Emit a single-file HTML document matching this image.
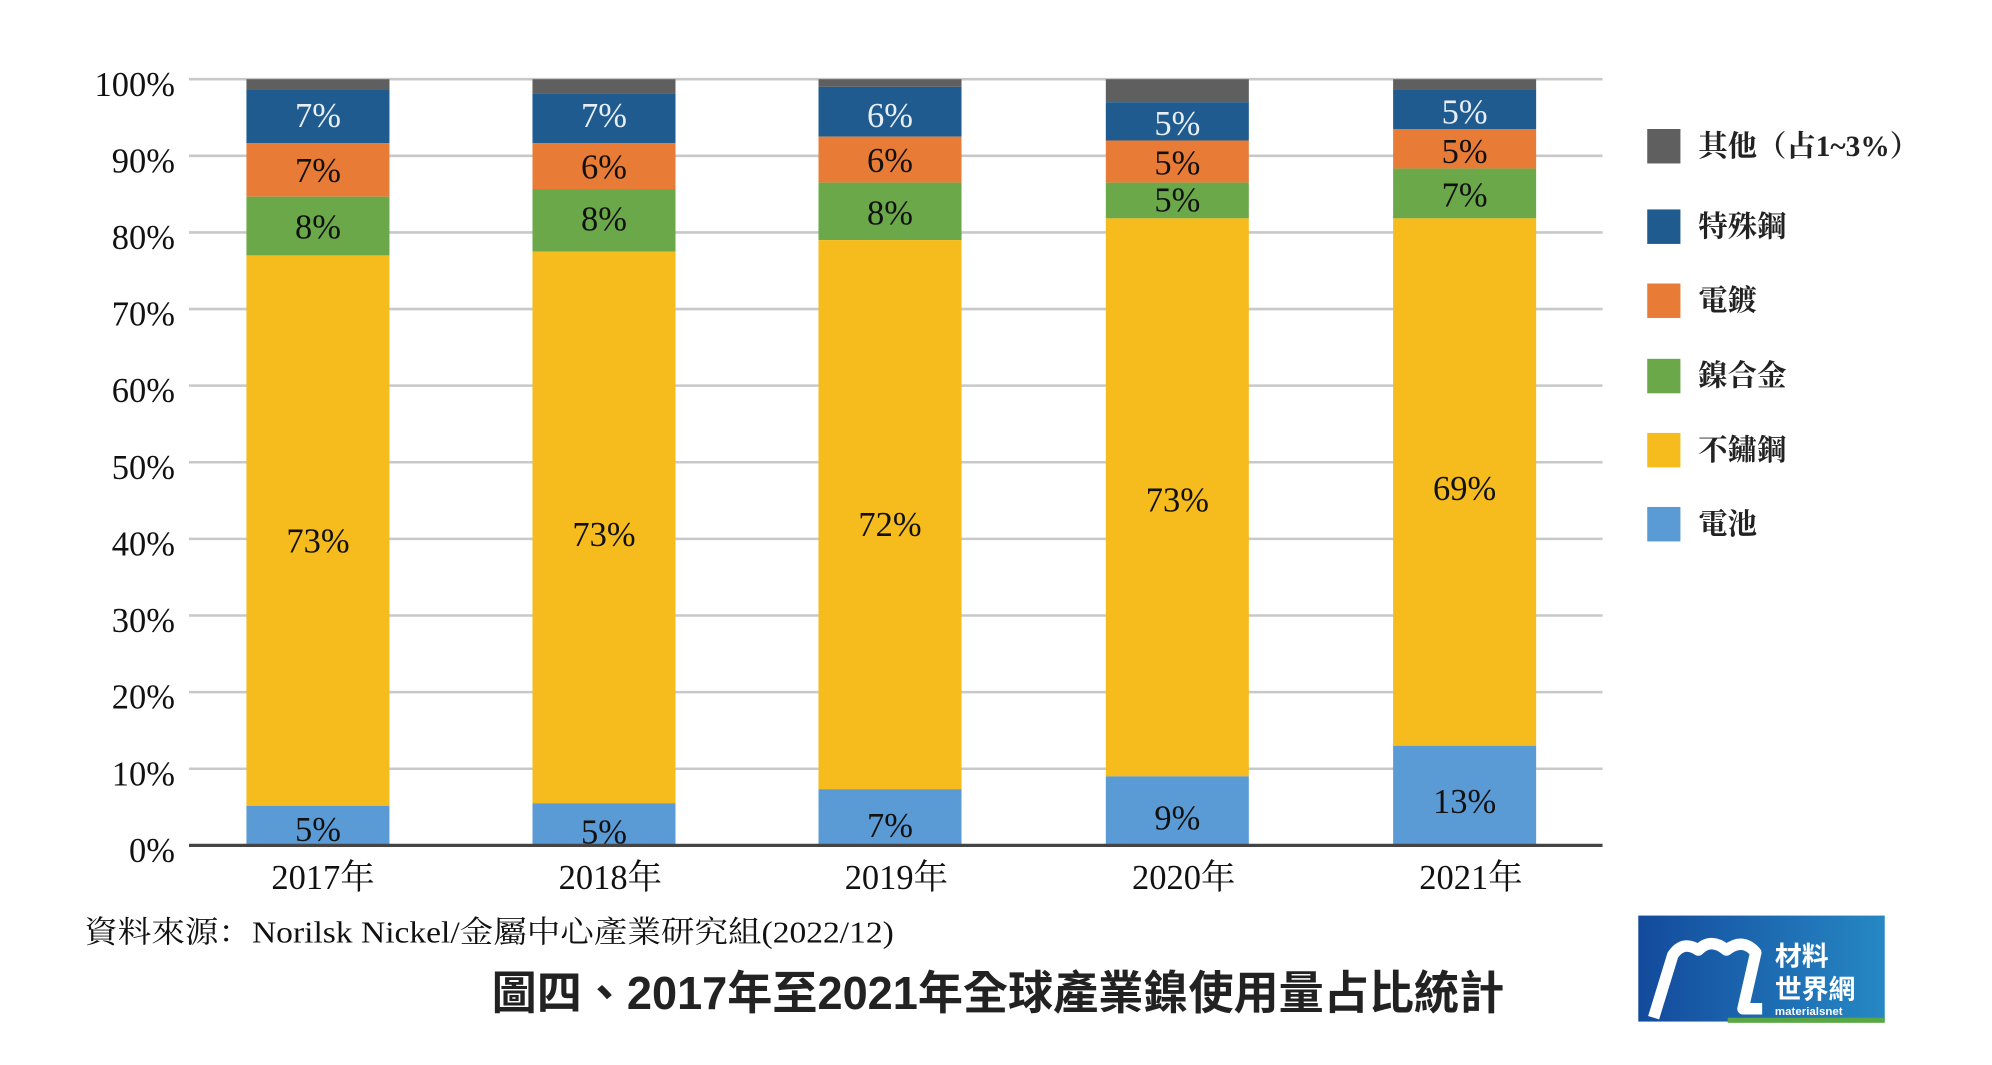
<!DOCTYPE html>
<html><head><meta charset="utf-8"><style>
html,body{margin:0;padding:0;background:#fff;}
svg{display:block;}
.s{font-family:"Liberation Serif","Noto Serif CJK SC",serif;}
</style></head><body>
<svg width="1992" height="1065" viewBox="0 0 1560 834" xmlns="http://www.w3.org/2000/svg">
<rect width="1560" height="834" fill="#fff"/>
<g stroke="#c8c8c8" stroke-width="2">
<line x1="148" x2="1255" y1="62" y2="62"/><line x1="148" x2="1255" y1="122" y2="122"/>
<line x1="148" x2="1255" y1="182" y2="182"/><line x1="148" x2="1255" y1="242" y2="242"/>
<line x1="148" x2="1255" y1="302" y2="302"/><line x1="148" x2="1255" y1="362" y2="362"/>
<line x1="148" x2="1255" y1="422" y2="422"/><line x1="148" x2="1255" y1="482" y2="482"/>
<line x1="148" x2="1255" y1="542" y2="542"/><line x1="148" x2="1255" y1="602" y2="602"/>
</g>
<g class="s" font-size="27" fill="#111" text-anchor="end">
<text x="137" y="75">100%</text><text x="137" y="135">90%</text><text x="137" y="195">80%</text>
<text x="137" y="255">70%</text><text x="137" y="315">60%</text><text x="137" y="375">50%</text>
<text x="137" y="435">40%</text><text x="137" y="495">30%</text><text x="137" y="555">20%</text>
<text x="137" y="615">10%</text><text x="137" y="675">0%</text>
</g>
<g>
<rect x="193" y="62" width="112" height="8" fill="#5f5f5f"/>
<rect x="193" y="70" width="112" height="42" fill="#1f5b8e"/>
<rect x="193" y="112" width="112" height="42" fill="#e87c36"/>
<rect x="193" y="154" width="112" height="46" fill="#6aa84a"/>
<rect x="193" y="200" width="112" height="431" fill="#f6bb1c"/>
<rect x="193" y="631" width="112" height="31" fill="#5b9bd5"/>
<rect x="417" y="62" width="112" height="11" fill="#5f5f5f"/>
<rect x="417" y="73" width="112" height="39" fill="#1f5b8e"/>
<rect x="417" y="112" width="112" height="36" fill="#e87c36"/>
<rect x="417" y="148" width="112" height="49" fill="#6aa84a"/>
<rect x="417" y="197" width="112" height="432" fill="#f6bb1c"/>
<rect x="417" y="629" width="112" height="33" fill="#5b9bd5"/>
<rect x="641" y="62" width="112" height="6" fill="#5f5f5f"/>
<rect x="641" y="68" width="112" height="39" fill="#1f5b8e"/>
<rect x="641" y="107" width="112" height="36" fill="#e87c36"/>
<rect x="641" y="143" width="112" height="45" fill="#6aa84a"/>
<rect x="641" y="188" width="112" height="430" fill="#f6bb1c"/>
<rect x="641" y="618" width="112" height="44" fill="#5b9bd5"/>
<rect x="866" y="62" width="112" height="18" fill="#5f5f5f"/>
<rect x="866" y="80" width="112" height="30" fill="#1f5b8e"/>
<rect x="866" y="110" width="112" height="33" fill="#e87c36"/>
<rect x="866" y="143" width="112" height="28" fill="#6aa84a"/>
<rect x="866" y="171" width="112" height="437" fill="#f6bb1c"/>
<rect x="866" y="608" width="112" height="54" fill="#5b9bd5"/>
<rect x="1091" y="62" width="112" height="8" fill="#5f5f5f"/>
<rect x="1091" y="70" width="112" height="31" fill="#1f5b8e"/>
<rect x="1091" y="101" width="112" height="31" fill="#e87c36"/>
<rect x="1091" y="132" width="112" height="39" fill="#6aa84a"/>
<rect x="1091" y="171" width="112" height="413" fill="#f6bb1c"/>
<rect x="1091" y="584" width="112" height="78" fill="#5b9bd5"/>
</g>
<line x1="148" x2="1255" y1="662" y2="662" stroke="#444" stroke-width="2.5"/>
<g class="s" font-size="27" text-anchor="middle" dominant-baseline="central" fill="#111">
<g fill="#e8eef5"><text x="249" y="91">7%</text><text x="473" y="91">7%</text><text x="697" y="91">6%</text><text x="922" y="97">5%</text><text x="1147" y="88">5%</text></g>
<text x="249" y="134">7%</text><text x="249" y="178">8%</text><text x="249" y="424">73%</text><text x="249" y="650">5%</text>
<text x="473" y="131">6%</text><text x="473" y="172">8%</text><text x="473" y="419">73%</text><text x="473" y="652">5%</text>
<text x="697" y="126">6%</text><text x="697" y="167">8%</text><text x="697" y="411">72%</text><text x="697" y="647">7%</text>
<text x="922" y="128">5%</text><text x="922" y="157">5%</text><text x="922" y="392">73%</text><text x="922" y="641">9%</text>
<text x="1147" y="119">5%</text><text x="1147" y="153">7%</text><text x="1147" y="383">69%</text><text x="1147" y="628">13%</text>
</g>
<g class="s" font-size="27" text-anchor="middle" fill="#111">
<text x="253" y="696">2017年</text><text x="478" y="696">2018年</text><text x="702" y="696">2019年</text>
<text x="927" y="696">2020年</text><text x="1152" y="696">2021年</text>
</g>
<g>
<rect x="1290" y="101" width="26" height="27" fill="#5f5f5f"/>
<rect x="1290" y="164" width="26" height="27" fill="#1f5b8e"/>
<rect x="1290" y="222" width="26" height="27" fill="#e87c36"/>
<rect x="1290" y="281" width="26" height="27" fill="#6aa84a"/>
<rect x="1290" y="339" width="26" height="27" fill="#f6bb1c"/>
<rect x="1290" y="397" width="26" height="27" fill="#5b9bd5"/>
</g>
<g class="s" font-size="23" font-weight="bold" fill="#222" dominant-baseline="central">
<text x="1330" y="115">其他（占1~3%）</text>
<text x="1330" y="178">特殊鋼</text>
<text x="1330" y="236">電鍍</text>
<text x="1330" y="295">鎳合金</text>
<text x="1330" y="353">不鏽鋼</text>
<text x="1330" y="411">電池</text>
</g>
<text class="s" x="66" y="738" font-size="24" fill="#111" textLength="634" lengthAdjust="spacingAndGlyphs">資料來源：Norilsk  Nickel/金屬中心產業研究組(2022/12)</text>
<text x="385" y="790" font-size="36" font-weight="bold" fill="#222" font-family="'Liberation Sans','Noto Sans CJK TC',sans-serif" textLength="793" lengthAdjust="spacingAndGlyphs">圖四、2017年至2021年全球產業鎳使用量占比統計</text>
<defs><linearGradient id="lg" x1="0" x2="1"><stop offset="0" stop-color="#134a9c"/><stop offset="1" stop-color="#2688c4"/></linearGradient></defs>
<rect x="1283" y="717" width="193" height="83" fill="url(#lg)"/>
<rect x="1353" y="797" width="123" height="4" fill="#5aa845"/>
<path d="M1295 797 L1310 748 Q1318 736 1330 744 Q1340 734 1352 744 Q1365 734 1375 746 L1365 790 L1380 790" fill="none" stroke="#fff" stroke-width="9" stroke-linejoin="round"/>
<text x="1390" y="756" font-size="21" font-weight="bold" fill="#fff" font-family="'Noto Sans CJK TC',sans-serif">材料</text>
<text x="1390" y="782" font-size="21" font-weight="bold" fill="#fff" font-family="'Noto Sans CJK TC',sans-serif">世界網</text>
<text x="1390" y="795" font-size="9" font-weight="bold" fill="#fff" font-family="'Liberation Sans',sans-serif">materialsnet</text>
</svg>
</body></html>
